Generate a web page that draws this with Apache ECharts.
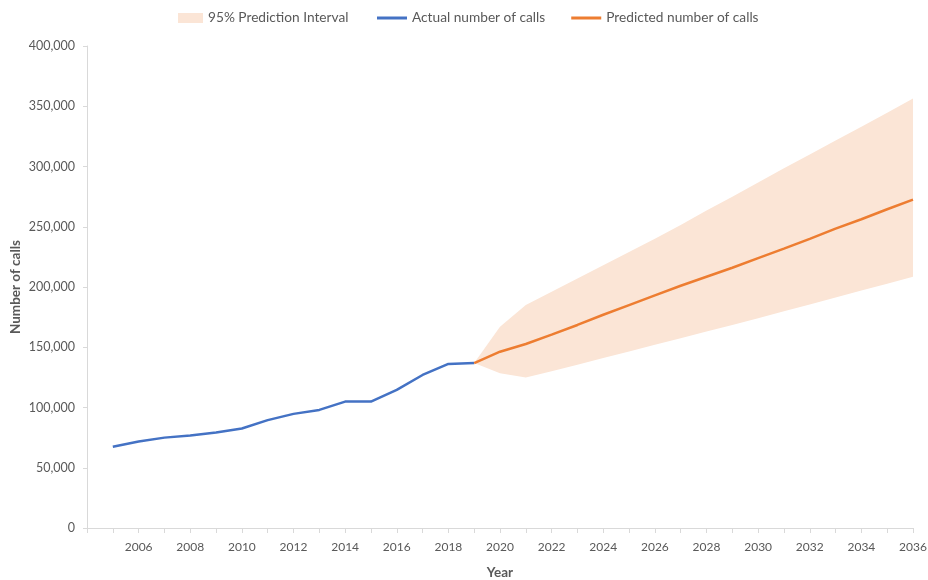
<!DOCTYPE html>
<html>
<head>
<meta charset="utf-8">
<script src="https://cdn.jsdelivr.net/npm/echarts@6/dist/echarts.min.js"></script>
<style>
html,body{margin:0;padding:0;background:#fff;}
#chart{width:928px;height:580px;}
</style>
</head>
<body>
<div id="chart"></div>
<script>
// Data
const actualYears = [2005,2006,2007,2008,2009,2010,2011,2012,2013,2014,2015,2016,2017,2018,2019];
const actualCalls = [67500,71800,75000,76800,79200,82600,89500,94700,98000,104900,104900,114600,127000,136200,136900];

const forecastYears = [2019,2020,2021,2022,2023,2024,2025,2026,2027,2028,2029,2030,2031,2032,2033,2034,2035,2036];
const predictedCalls = [136900,146300,152700,160500,168500,177000,185000,193000,201000,208500,216000,224000,231800,240000,248500,256200,264500,272500];
const lowerBound = [136900,128400,125000,130000,135500,141000,146500,152000,157500,163000,168500,174000,179800,185500,191200,197000,202800,208500];
const upperBound = [136900,167000,185000,196000,207000,218000,229000,240000,251500,263500,275000,286800,298500,310000,321500,333000,344700,356500];

const yTicks = [0,50000,100000,150000,200000,250000,300000,350000,400000];

const pairs = (xs, ys) => xs.map((x, i) => [x, ys[i]]);
const bandData = forecastYears.map((x, i) => [x, lowerBound[i], upperBound[i]]);

const textColor = '#595959';
const font = 'Lato, "Open Sans", sans-serif';
const bandColor = '#FBE5D6';

const chart = echarts.init(document.getElementById('chart'), null, {renderer: 'canvas'});
chart.setOption({
  animation: false,
  backgroundColor: '#fff',
  textStyle: {fontFamily: font},
  legend: [
    {
      top: 11,
      left: 178,
      padding: 0,
      itemWidth: 25,
      itemHeight: 10,
      textStyle: {color: textColor, fontSize: 13.7, fontFamily: font},
      data: [{name: '95% Prediction Interval', icon: 'rect', itemStyle: {color: bandColor}}]
    },
    {
      top: 11,
      left: 377,
      padding: 0,
      itemWidth: 30,
      itemHeight: 3,
      itemGap: 26,
      icon: 'rect',
      textStyle: {color: textColor, fontSize: 13.7, fontFamily: font},
      data: [
        {name: 'Actual number of calls', icon: 'rect', itemStyle: {color: '#4472C4'}},
        {name: 'Predicted number of calls', icon: 'rect', itemStyle: {color: '#ED7D31'}}
      ]
    }
  ],
  grid: {left: 87, right: 15, top: 46, bottom: 52, containLabel: false, outerBoundsMode: 'none'},
  xAxis: {
    type: 'value',
    min: 2004,
    max: 2036,
    interval: 1,
    name: 'Year',
    nameLocation: 'middle',
    nameGap: 38,
    nameMoveOverlap: false,
    nameTextStyle: {color: textColor, fontWeight: 'bold', fontSize: 13.5, fontFamily: font},
    axisLine: {show: true, lineStyle: {color: '#D9D9D9', width: 1}},
    axisTick: {show: true, length: 5, lineStyle: {color: '#D9D9D9'}},
    splitLine: {show: false},
    axisLabel: {
      color: textColor, fontSize: 12, margin: 13,
      formatter: v => (v % 2 === 0 && v > 2004) ? String(v) : ''
    }
  },
  yAxis: {
    type: 'value',
    min: yTicks[0],
    max: yTicks[yTicks.length - 1],
    interval: yTicks[1] - yTicks[0],
    name: 'Number of calls',
    nameLocation: 'middle',
    nameRotate: 90,
    nameGap: 64,
    nameMoveOverlap: false,
    nameTextStyle: {color: textColor, fontWeight: 'bold', fontSize: 13.5, fontFamily: font},
    axisLine: {show: true, lineStyle: {color: '#D9D9D9', width: 1}},
    axisTick: {show: true, length: 4, lineStyle: {color: '#D9D9D9'}},
    splitLine: {show: false},
    axisLabel: {
      color: textColor, fontSize: 12.5, margin: 12,
      formatter: v => v.toLocaleString('en-US')
    }
  },
  series: [
    {
      name: '95% Prediction Interval',
      type: 'custom',
      data: bandData,
      encode: {x: 0, y: [1, 2]},
      itemStyle: {color: bandColor},
      z: 1,
      renderItem: function (params, api) {
        if (params.dataIndex !== 0) return null;
        const pts = [];
        for (let i = 0; i < bandData.length; i++) pts.push(api.coord([bandData[i][0], bandData[i][2]]));
        for (let i = bandData.length - 1; i >= 0; i--) pts.push(api.coord([bandData[i][0], bandData[i][1]]));
        return {
          type: 'polygon',
          shape: {points: pts},
          style: {fill: bandColor}
        };
      }
    },
    {
      name: 'Actual number of calls',
      type: 'line',
      data: pairs(actualYears, actualCalls),
      symbol: 'none',
      itemStyle: {color: '#4472C4'},
      lineStyle: {color: '#4472C4', width: 2.5},
      z: 3
    },
    {
      name: 'Predicted number of calls',
      type: 'line',
      data: pairs(forecastYears, predictedCalls),
      symbol: 'none',
      itemStyle: {color: '#ED7D31'},
      lineStyle: {color: '#ED7D31', width: 2.5},
      z: 4
    }
  ]
});
</script>
</body>
</html>
